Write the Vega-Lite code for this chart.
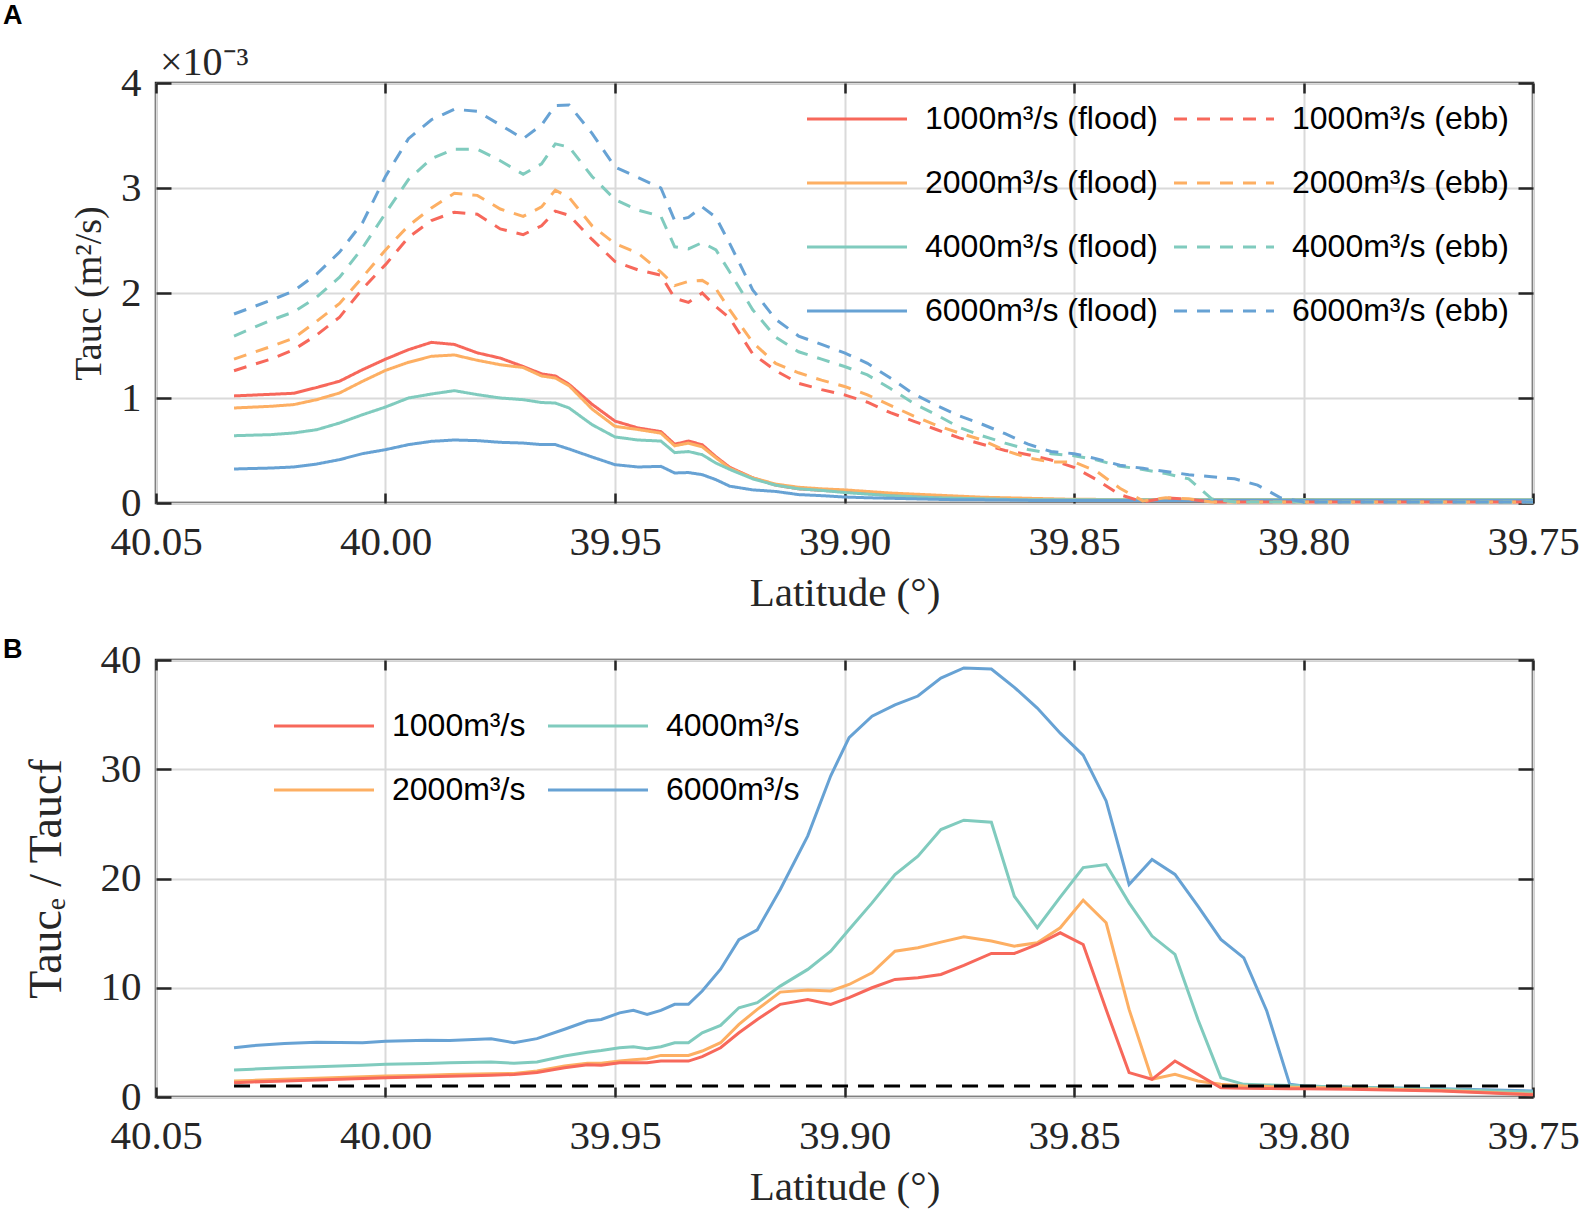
{
  "$schema": "https://vega.github.io/schema/vega-lite/v6.json",
  "background": "white",
  "padding": {"left": 1, "top": 0, "right": 0, "bottom": 5},
  "bounds": "flush",
  "spacing": 157,
  "resolve": {"scale": {"color": "independent", "strokeDash": "independent"}, "legend": {"color": "independent", "strokeDash": "independent"}},
  "config": {
    "view": {"stroke": "#262626", "strokeWidth": 2.5},
    "axis": {
      "domain": false,
      "labelFont": "Liberation Serif", "labelFontSize": 41, "labelColor": "#262626",
      "labelFlush": false, "labelOverlap": false,
      "titleFont": "Liberation Serif", "titleFontSize": 41, "titleFontWeight": "normal", "titleColor": "#262626",
      "tickColor": "#262626", "tickWidth": 2.5,
      "gridColor": "#dadada", "gridWidth": 2, "gridOpacity": 1
    },
    "axisX": {"tickSize": -10, "labelPadding": 29, "titlePadding": 11},
    "axisY": {"tickSize": -15, "labelPadding": 30, "titlePadding": 12},
    "legend": {
      "labelFont": "Liberation Sans", "labelFontSize": 32, "labelColor": "black", "labelLimit": 0,
      "symbolType": "M-1,0H9", "symbolSize": 400, "symbolStrokeWidth": 3, "labelOffset": 92,
      "rowPadding": 32, "padding": 0, "direction": "horizontal"
    }
  },
  "datasets": {
    "a": [
      {"s":"1000m³/s (flood)","lat":40.033,"v":1.02},{"s":"1000m³/s (flood)","lat":40.025,"v":1.035},{"s":"1000m³/s (flood)","lat":40.02,"v":1.045},{"s":"1000m³/s (flood)","lat":40.015,"v":1.10},{"s":"1000m³/s (flood)","lat":40.01,"v":1.16},{"s":"1000m³/s (flood)","lat":40.005,"v":1.27},{"s":"1000m³/s (flood)","lat":40.0,"v":1.37},{"s":"1000m³/s (flood)","lat":39.995,"v":1.46},{"s":"1000m³/s (flood)","lat":39.99,"v":1.53},{"s":"1000m³/s (flood)","lat":39.985,"v":1.51},
      {"s":"1000m³/s (flood)","lat":39.98,"v":1.43},{"s":"1000m³/s (flood)","lat":39.975,"v":1.38},{"s":"1000m³/s (flood)","lat":39.97,"v":1.30},{"s":"1000m³/s (flood)","lat":39.966,"v":1.23},{"s":"1000m³/s (flood)","lat":39.963,"v":1.21},{"s":"1000m³/s (flood)","lat":39.96,"v":1.13},{"s":"1000m³/s (flood)","lat":39.955,"v":0.94},{"s":"1000m³/s (flood)","lat":39.95,"v":0.78},{"s":"1000m³/s (flood)","lat":39.945,"v":0.715},{"s":"1000m³/s (flood)","lat":39.94,"v":0.68},
      {"s":"1000m³/s (flood)","lat":39.937,"v":0.56},{"s":"1000m³/s (flood)","lat":39.934,"v":0.59},{"s":"1000m³/s (flood)","lat":39.931,"v":0.555},{"s":"1000m³/s (flood)","lat":39.928,"v":0.44},{"s":"1000m³/s (flood)","lat":39.925,"v":0.34},{"s":"1000m³/s (flood)","lat":39.92,"v":0.24},{"s":"1000m³/s (flood)","lat":39.915,"v":0.17},{"s":"1000m³/s (flood)","lat":39.91,"v":0.135},{"s":"1000m³/s (flood)","lat":39.905,"v":0.12},{"s":"1000m³/s (flood)","lat":39.9,"v":0.11},
      {"s":"1000m³/s (flood)","lat":39.895,"v":0.09},{"s":"1000m³/s (flood)","lat":39.89,"v":0.075},{"s":"1000m³/s (flood)","lat":39.885,"v":0.065},{"s":"1000m³/s (flood)","lat":39.88,"v":0.055},{"s":"1000m³/s (flood)","lat":39.875,"v":0.05},{"s":"1000m³/s (flood)","lat":39.87,"v":0.045},{"s":"1000m³/s (flood)","lat":39.865,"v":0.04},{"s":"1000m³/s (flood)","lat":39.86,"v":0.035},{"s":"1000m³/s (flood)","lat":39.855,"v":0.03},{"s":"1000m³/s (flood)","lat":39.85,"v":0.03},
      {"s":"1000m³/s (flood)","lat":39.8,"v":0.03},{"s":"1000m³/s (flood)","lat":39.75,"v":0.025},

      {"s":"2000m³/s (flood)","lat":40.033,"v":0.905},{"s":"2000m³/s (flood)","lat":40.025,"v":0.921},{"s":"2000m³/s (flood)","lat":40.02,"v":0.937},{"s":"2000m³/s (flood)","lat":40.015,"v":0.984},{"s":"2000m³/s (flood)","lat":40.01,"v":1.048},{"s":"2000m³/s (flood)","lat":40.005,"v":1.159},{"s":"2000m³/s (flood)","lat":40.0,"v":1.263},{"s":"2000m³/s (flood)","lat":39.995,"v":1.34},{"s":"2000m³/s (flood)","lat":39.99,"v":1.397},{"s":"2000m³/s (flood)","lat":39.985,"v":1.41},
      {"s":"2000m³/s (flood)","lat":39.98,"v":1.359},{"s":"2000m³/s (flood)","lat":39.975,"v":1.317},{"s":"2000m³/s (flood)","lat":39.97,"v":1.29},{"s":"2000m³/s (flood)","lat":39.966,"v":1.21},{"s":"2000m³/s (flood)","lat":39.963,"v":1.19},{"s":"2000m³/s (flood)","lat":39.96,"v":1.117},{"s":"2000m³/s (flood)","lat":39.955,"v":0.895},{"s":"2000m³/s (flood)","lat":39.95,"v":0.73},{"s":"2000m³/s (flood)","lat":39.945,"v":0.70},{"s":"2000m³/s (flood)","lat":39.94,"v":0.665},
      {"s":"2000m³/s (flood)","lat":39.937,"v":0.545},{"s":"2000m³/s (flood)","lat":39.934,"v":0.57},{"s":"2000m³/s (flood)","lat":39.931,"v":0.535},{"s":"2000m³/s (flood)","lat":39.928,"v":0.43},{"s":"2000m³/s (flood)","lat":39.925,"v":0.33},{"s":"2000m³/s (flood)","lat":39.92,"v":0.24},{"s":"2000m³/s (flood)","lat":39.915,"v":0.18},{"s":"2000m³/s (flood)","lat":39.91,"v":0.15},{"s":"2000m³/s (flood)","lat":39.905,"v":0.135},{"s":"2000m³/s (flood)","lat":39.9,"v":0.125},
      {"s":"2000m³/s (flood)","lat":39.895,"v":0.11},{"s":"2000m³/s (flood)","lat":39.89,"v":0.095},{"s":"2000m³/s (flood)","lat":39.885,"v":0.085},{"s":"2000m³/s (flood)","lat":39.88,"v":0.075},{"s":"2000m³/s (flood)","lat":39.875,"v":0.065},{"s":"2000m³/s (flood)","lat":39.87,"v":0.055},{"s":"2000m³/s (flood)","lat":39.865,"v":0.05},{"s":"2000m³/s (flood)","lat":39.86,"v":0.045},{"s":"2000m³/s (flood)","lat":39.855,"v":0.04},{"s":"2000m³/s (flood)","lat":39.85,"v":0.035},
      {"s":"2000m³/s (flood)","lat":39.8,"v":0.03},{"s":"2000m³/s (flood)","lat":39.75,"v":0.03},

      {"s":"4000m³/s (flood)","lat":40.033,"v":0.641},{"s":"4000m³/s (flood)","lat":40.025,"v":0.651},{"s":"4000m³/s (flood)","lat":40.02,"v":0.667},{"s":"4000m³/s (flood)","lat":40.015,"v":0.698},{"s":"4000m³/s (flood)","lat":40.01,"v":0.762},{"s":"4000m³/s (flood)","lat":40.005,"v":0.841},{"s":"4000m³/s (flood)","lat":40.0,"v":0.914},{"s":"4000m³/s (flood)","lat":39.995,"v":1.0},{"s":"4000m³/s (flood)","lat":39.99,"v":1.038},{"s":"4000m³/s (flood)","lat":39.985,"v":1.07},
      {"s":"4000m³/s (flood)","lat":39.98,"v":1.032},{"s":"4000m³/s (flood)","lat":39.975,"v":1.0},{"s":"4000m³/s (flood)","lat":39.97,"v":0.984},{"s":"4000m³/s (flood)","lat":39.966,"v":0.957},{"s":"4000m³/s (flood)","lat":39.963,"v":0.952},{"s":"4000m³/s (flood)","lat":39.96,"v":0.905},{"s":"4000m³/s (flood)","lat":39.955,"v":0.746},{"s":"4000m³/s (flood)","lat":39.95,"v":0.629},{"s":"4000m³/s (flood)","lat":39.945,"v":0.60},{"s":"4000m³/s (flood)","lat":39.94,"v":0.59},
      {"s":"4000m³/s (flood)","lat":39.937,"v":0.48},{"s":"4000m³/s (flood)","lat":39.934,"v":0.49},{"s":"4000m³/s (flood)","lat":39.931,"v":0.46},{"s":"4000m³/s (flood)","lat":39.928,"v":0.38},{"s":"4000m³/s (flood)","lat":39.925,"v":0.32},{"s":"4000m³/s (flood)","lat":39.92,"v":0.23},{"s":"4000m³/s (flood)","lat":39.915,"v":0.17},{"s":"4000m³/s (flood)","lat":39.91,"v":0.135},{"s":"4000m³/s (flood)","lat":39.905,"v":0.12},{"s":"4000m³/s (flood)","lat":39.9,"v":0.10},
      {"s":"4000m³/s (flood)","lat":39.895,"v":0.085},{"s":"4000m³/s (flood)","lat":39.89,"v":0.07},{"s":"4000m³/s (flood)","lat":39.885,"v":0.06},{"s":"4000m³/s (flood)","lat":39.88,"v":0.05},{"s":"4000m³/s (flood)","lat":39.875,"v":0.045},{"s":"4000m³/s (flood)","lat":39.87,"v":0.04},{"s":"4000m³/s (flood)","lat":39.865,"v":0.035},{"s":"4000m³/s (flood)","lat":39.86,"v":0.03},{"s":"4000m³/s (flood)","lat":39.855,"v":0.03},{"s":"4000m³/s (flood)","lat":39.85,"v":0.03},
      {"s":"4000m³/s (flood)","lat":39.8,"v":0.03},{"s":"4000m³/s (flood)","lat":39.75,"v":0.03},

      {"s":"6000m³/s (flood)","lat":40.033,"v":0.324},{"s":"6000m³/s (flood)","lat":40.025,"v":0.333},{"s":"6000m³/s (flood)","lat":40.02,"v":0.343},{"s":"6000m³/s (flood)","lat":40.015,"v":0.371},{"s":"6000m³/s (flood)","lat":40.01,"v":0.413},{"s":"6000m³/s (flood)","lat":40.005,"v":0.47},{"s":"6000m³/s (flood)","lat":40.0,"v":0.508},{"s":"6000m³/s (flood)","lat":39.995,"v":0.556},{"s":"6000m³/s (flood)","lat":39.99,"v":0.587},{"s":"6000m³/s (flood)","lat":39.985,"v":0.60},
      {"s":"6000m³/s (flood)","lat":39.98,"v":0.594},{"s":"6000m³/s (flood)","lat":39.975,"v":0.578},{"s":"6000m³/s (flood)","lat":39.97,"v":0.571},{"s":"6000m³/s (flood)","lat":39.966,"v":0.556},{"s":"6000m³/s (flood)","lat":39.963,"v":0.556},{"s":"6000m³/s (flood)","lat":39.96,"v":0.514},{"s":"6000m³/s (flood)","lat":39.955,"v":0.438},{"s":"6000m³/s (flood)","lat":39.95,"v":0.365},{"s":"6000m³/s (flood)","lat":39.945,"v":0.343},{"s":"6000m³/s (flood)","lat":39.94,"v":0.349},
      {"s":"6000m³/s (flood)","lat":39.937,"v":0.286},{"s":"6000m³/s (flood)","lat":39.934,"v":0.29},{"s":"6000m³/s (flood)","lat":39.931,"v":0.27},{"s":"6000m³/s (flood)","lat":39.928,"v":0.222},{"s":"6000m³/s (flood)","lat":39.925,"v":0.16},{"s":"6000m³/s (flood)","lat":39.92,"v":0.125},{"s":"6000m³/s (flood)","lat":39.915,"v":0.11},{"s":"6000m³/s (flood)","lat":39.91,"v":0.08},{"s":"6000m³/s (flood)","lat":39.905,"v":0.07},{"s":"6000m³/s (flood)","lat":39.9,"v":0.057},
      {"s":"6000m³/s (flood)","lat":39.895,"v":0.05},{"s":"6000m³/s (flood)","lat":39.89,"v":0.045},{"s":"6000m³/s (flood)","lat":39.885,"v":0.04},{"s":"6000m³/s (flood)","lat":39.88,"v":0.035},{"s":"6000m³/s (flood)","lat":39.875,"v":0.03},{"s":"6000m³/s (flood)","lat":39.87,"v":0.03},{"s":"6000m³/s (flood)","lat":39.865,"v":0.028},{"s":"6000m³/s (flood)","lat":39.86,"v":0.025},{"s":"6000m³/s (flood)","lat":39.855,"v":0.025},{"s":"6000m³/s (flood)","lat":39.85,"v":0.025},
      {"s":"6000m³/s (flood)","lat":39.8,"v":0.025},{"s":"6000m³/s (flood)","lat":39.75,"v":0.025},

      {"s":"1000m³/s (ebb)","lat":40.033,"v":1.26},{"s":"1000m³/s (ebb)","lat":40.025,"v":1.37},{"s":"1000m³/s (ebb)","lat":40.02,"v":1.46},{"s":"1000m³/s (ebb)","lat":40.015,"v":1.60},{"s":"1000m³/s (ebb)","lat":40.01,"v":1.77},{"s":"1000m³/s (ebb)","lat":40.005,"v":2.04},{"s":"1000m³/s (ebb)","lat":40.0,"v":2.27},{"s":"1000m³/s (ebb)","lat":39.995,"v":2.53},{"s":"1000m³/s (ebb)","lat":39.99,"v":2.69},{"s":"1000m³/s (ebb)","lat":39.985,"v":2.77},
      {"s":"1000m³/s (ebb)","lat":39.98,"v":2.75},{"s":"1000m³/s (ebb)","lat":39.975,"v":2.61},{"s":"1000m³/s (ebb)","lat":39.97,"v":2.556},{"s":"1000m³/s (ebb)","lat":39.966,"v":2.64},{"s":"1000m³/s (ebb)","lat":39.963,"v":2.78},{"s":"1000m³/s (ebb)","lat":39.96,"v":2.74},{"s":"1000m³/s (ebb)","lat":39.955,"v":2.51},{"s":"1000m³/s (ebb)","lat":39.95,"v":2.3},{"s":"1000m³/s (ebb)","lat":39.945,"v":2.22},{"s":"1000m³/s (ebb)","lat":39.94,"v":2.17},
      {"s":"1000m³/s (ebb)","lat":39.937,"v":1.95},{"s":"1000m³/s (ebb)","lat":39.934,"v":1.91},{"s":"1000m³/s (ebb)","lat":39.931,"v":2.0},{"s":"1000m³/s (ebb)","lat":39.928,"v":1.87},{"s":"1000m³/s (ebb)","lat":39.925,"v":1.76},{"s":"1000m³/s (ebb)","lat":39.92,"v":1.42},{"s":"1000m³/s (ebb)","lat":39.915,"v":1.26},{"s":"1000m³/s (ebb)","lat":39.91,"v":1.14},{"s":"1000m³/s (ebb)","lat":39.905,"v":1.08},{"s":"1000m³/s (ebb)","lat":39.9,"v":1.03},
      {"s":"1000m³/s (ebb)","lat":39.895,"v":0.96},{"s":"1000m³/s (ebb)","lat":39.89,"v":0.86},{"s":"1000m³/s (ebb)","lat":39.885,"v":0.78},{"s":"1000m³/s (ebb)","lat":39.88,"v":0.70},{"s":"1000m³/s (ebb)","lat":39.875,"v":0.62},{"s":"1000m³/s (ebb)","lat":39.87,"v":0.56},{"s":"1000m³/s (ebb)","lat":39.865,"v":0.50},{"s":"1000m³/s (ebb)","lat":39.86,"v":0.46},{"s":"1000m³/s (ebb)","lat":39.855,"v":0.41},{"s":"1000m³/s (ebb)","lat":39.85,"v":0.34},
      {"s":"1000m³/s (ebb)","lat":39.845,"v":0.22},{"s":"1000m³/s (ebb)","lat":39.84,"v":0.08},{"s":"1000m³/s (ebb)","lat":39.835,"v":0.01},{"s":"1000m³/s (ebb)","lat":39.83,"v":0.05},{"s":"1000m³/s (ebb)","lat":39.825,"v":0.035},{"s":"1000m³/s (ebb)","lat":39.82,"v":0.01},{"s":"1000m³/s (ebb)","lat":39.8,"v":0.01},{"s":"1000m³/s (ebb)","lat":39.75,"v":0.01},

      {"s":"2000m³/s (ebb)","lat":40.033,"v":1.37},{"s":"2000m³/s (ebb)","lat":40.025,"v":1.49},{"s":"2000m³/s (ebb)","lat":40.02,"v":1.57},{"s":"2000m³/s (ebb)","lat":40.015,"v":1.73},{"s":"2000m³/s (ebb)","lat":40.01,"v":1.90},{"s":"2000m³/s (ebb)","lat":40.005,"v":2.15},{"s":"2000m³/s (ebb)","lat":40.0,"v":2.41},{"s":"2000m³/s (ebb)","lat":39.995,"v":2.64},{"s":"2000m³/s (ebb)","lat":39.99,"v":2.81},{"s":"2000m³/s (ebb)","lat":39.985,"v":2.95},
      {"s":"2000m³/s (ebb)","lat":39.98,"v":2.93},{"s":"2000m³/s (ebb)","lat":39.975,"v":2.80},{"s":"2000m³/s (ebb)","lat":39.97,"v":2.73},{"s":"2000m³/s (ebb)","lat":39.966,"v":2.82},{"s":"2000m³/s (ebb)","lat":39.963,"v":2.98},{"s":"2000m³/s (ebb)","lat":39.96,"v":2.91},{"s":"2000m³/s (ebb)","lat":39.955,"v":2.64},{"s":"2000m³/s (ebb)","lat":39.95,"v":2.47},{"s":"2000m³/s (ebb)","lat":39.945,"v":2.38},{"s":"2000m³/s (ebb)","lat":39.94,"v":2.2},
      {"s":"2000m³/s (ebb)","lat":39.937,"v":2.07},{"s":"2000m³/s (ebb)","lat":39.934,"v":2.11},{"s":"2000m³/s (ebb)","lat":39.931,"v":2.12},{"s":"2000m³/s (ebb)","lat":39.928,"v":2.04},{"s":"2000m³/s (ebb)","lat":39.925,"v":1.84},{"s":"2000m³/s (ebb)","lat":39.92,"v":1.53},{"s":"2000m³/s (ebb)","lat":39.915,"v":1.33},{"s":"2000m³/s (ebb)","lat":39.91,"v":1.24},{"s":"2000m³/s (ebb)","lat":39.905,"v":1.17},{"s":"2000m³/s (ebb)","lat":39.9,"v":1.11},
      {"s":"2000m³/s (ebb)","lat":39.895,"v":1.03},{"s":"2000m³/s (ebb)","lat":39.89,"v":0.93},{"s":"2000m³/s (ebb)","lat":39.885,"v":0.83},{"s":"2000m³/s (ebb)","lat":39.88,"v":0.74},{"s":"2000m³/s (ebb)","lat":39.875,"v":0.667},{"s":"2000m³/s (ebb)","lat":39.87,"v":0.60},{"s":"2000m³/s (ebb)","lat":39.865,"v":0.50},{"s":"2000m³/s (ebb)","lat":39.86,"v":0.43},{"s":"2000m³/s (ebb)","lat":39.855,"v":0.39},{"s":"2000m³/s (ebb)","lat":39.85,"v":0.39},
      {"s":"2000m³/s (ebb)","lat":39.845,"v":0.30},{"s":"2000m³/s (ebb)","lat":39.84,"v":0.14},{"s":"2000m³/s (ebb)","lat":39.835,"v":0.02},{"s":"2000m³/s (ebb)","lat":39.83,"v":0.05},{"s":"2000m³/s (ebb)","lat":39.825,"v":0.04},{"s":"2000m³/s (ebb)","lat":39.82,"v":0.01},{"s":"2000m³/s (ebb)","lat":39.8,"v":0.01},{"s":"2000m³/s (ebb)","lat":39.75,"v":0.01},

      {"s":"4000m³/s (ebb)","lat":40.033,"v":1.59},{"s":"4000m³/s (ebb)","lat":40.025,"v":1.74},{"s":"4000m³/s (ebb)","lat":40.02,"v":1.82},{"s":"4000m³/s (ebb)","lat":40.015,"v":1.96},{"s":"4000m³/s (ebb)","lat":40.01,"v":2.15},{"s":"4000m³/s (ebb)","lat":40.005,"v":2.43},{"s":"4000m³/s (ebb)","lat":40.0,"v":2.76},{"s":"4000m³/s (ebb)","lat":39.995,"v":3.08},{"s":"4000m³/s (ebb)","lat":39.99,"v":3.28},{"s":"4000m³/s (ebb)","lat":39.985,"v":3.37},
      {"s":"4000m³/s (ebb)","lat":39.98,"v":3.37},{"s":"4000m³/s (ebb)","lat":39.975,"v":3.26},{"s":"4000m³/s (ebb)","lat":39.97,"v":3.13},{"s":"4000m³/s (ebb)","lat":39.966,"v":3.23},{"s":"4000m³/s (ebb)","lat":39.963,"v":3.42},{"s":"4000m³/s (ebb)","lat":39.96,"v":3.39},{"s":"4000m³/s (ebb)","lat":39.955,"v":3.11},{"s":"4000m³/s (ebb)","lat":39.95,"v":2.89},{"s":"4000m³/s (ebb)","lat":39.945,"v":2.79},{"s":"4000m³/s (ebb)","lat":39.94,"v":2.73},
      {"s":"4000m³/s (ebb)","lat":39.937,"v":2.44},{"s":"4000m³/s (ebb)","lat":39.934,"v":2.42},{"s":"4000m³/s (ebb)","lat":39.931,"v":2.48},{"s":"4000m³/s (ebb)","lat":39.928,"v":2.41},{"s":"4000m³/s (ebb)","lat":39.925,"v":2.2},{"s":"4000m³/s (ebb)","lat":39.92,"v":1.84},{"s":"4000m³/s (ebb)","lat":39.915,"v":1.58},{"s":"4000m³/s (ebb)","lat":39.91,"v":1.44},{"s":"4000m³/s (ebb)","lat":39.905,"v":1.37},{"s":"4000m³/s (ebb)","lat":39.9,"v":1.30},
      {"s":"4000m³/s (ebb)","lat":39.895,"v":1.22},{"s":"4000m³/s (ebb)","lat":39.89,"v":1.09},{"s":"4000m³/s (ebb)","lat":39.885,"v":0.95},{"s":"4000m³/s (ebb)","lat":39.88,"v":0.84},{"s":"4000m³/s (ebb)","lat":39.875,"v":0.72},{"s":"4000m³/s (ebb)","lat":39.87,"v":0.64},{"s":"4000m³/s (ebb)","lat":39.865,"v":0.57},{"s":"4000m³/s (ebb)","lat":39.86,"v":0.51},{"s":"4000m³/s (ebb)","lat":39.855,"v":0.47},{"s":"4000m³/s (ebb)","lat":39.85,"v":0.45},
      {"s":"4000m³/s (ebb)","lat":39.845,"v":0.41},{"s":"4000m³/s (ebb)","lat":39.84,"v":0.35},{"s":"4000m³/s (ebb)","lat":39.835,"v":0.32},{"s":"4000m³/s (ebb)","lat":39.83,"v":0.28},{"s":"4000m³/s (ebb)","lat":39.825,"v":0.23},{"s":"4000m³/s (ebb)","lat":39.82,"v":0.04},{"s":"4000m³/s (ebb)","lat":39.815,"v":0.01},{"s":"4000m³/s (ebb)","lat":39.8,"v":0.01},{"s":"4000m³/s (ebb)","lat":39.75,"v":0.01},

      {"s":"6000m³/s (ebb)","lat":40.033,"v":1.80},{"s":"6000m³/s (ebb)","lat":40.025,"v":1.93},{"s":"6000m³/s (ebb)","lat":40.02,"v":2.02},{"s":"6000m³/s (ebb)","lat":40.015,"v":2.18},{"s":"6000m³/s (ebb)","lat":40.01,"v":2.39},{"s":"6000m³/s (ebb)","lat":40.005,"v":2.67},{"s":"6000m³/s (ebb)","lat":40.0,"v":3.11},{"s":"6000m³/s (ebb)","lat":39.995,"v":3.47},{"s":"6000m³/s (ebb)","lat":39.99,"v":3.65},{"s":"6000m³/s (ebb)","lat":39.985,"v":3.75},
      {"s":"6000m³/s (ebb)","lat":39.98,"v":3.73},{"s":"6000m³/s (ebb)","lat":39.975,"v":3.60},{"s":"6000m³/s (ebb)","lat":39.97,"v":3.47},{"s":"6000m³/s (ebb)","lat":39.966,"v":3.6},{"s":"6000m³/s (ebb)","lat":39.963,"v":3.785},{"s":"6000m³/s (ebb)","lat":39.96,"v":3.79},{"s":"6000m³/s (ebb)","lat":39.955,"v":3.52},{"s":"6000m³/s (ebb)","lat":39.95,"v":3.2},{"s":"6000m³/s (ebb)","lat":39.945,"v":3.1},{"s":"6000m³/s (ebb)","lat":39.94,"v":3.0},
      {"s":"6000m³/s (ebb)","lat":39.937,"v":2.69},{"s":"6000m³/s (ebb)","lat":39.934,"v":2.72},{"s":"6000m³/s (ebb)","lat":39.931,"v":2.82},{"s":"6000m³/s (ebb)","lat":39.928,"v":2.72},{"s":"6000m³/s (ebb)","lat":39.925,"v":2.47},{"s":"6000m³/s (ebb)","lat":39.92,"v":2.03},{"s":"6000m³/s (ebb)","lat":39.915,"v":1.75},{"s":"6000m³/s (ebb)","lat":39.91,"v":1.59},{"s":"6000m³/s (ebb)","lat":39.905,"v":1.51},{"s":"6000m³/s (ebb)","lat":39.9,"v":1.43},
      {"s":"6000m³/s (ebb)","lat":39.895,"v":1.33},{"s":"6000m³/s (ebb)","lat":39.89,"v":1.19},{"s":"6000m³/s (ebb)","lat":39.885,"v":1.04},{"s":"6000m³/s (ebb)","lat":39.88,"v":0.93},{"s":"6000m³/s (ebb)","lat":39.875,"v":0.83},{"s":"6000m³/s (ebb)","lat":39.87,"v":0.75},{"s":"6000m³/s (ebb)","lat":39.865,"v":0.66},{"s":"6000m³/s (ebb)","lat":39.86,"v":0.56},{"s":"6000m³/s (ebb)","lat":39.855,"v":0.49},{"s":"6000m³/s (ebb)","lat":39.85,"v":0.47},
      {"s":"6000m³/s (ebb)","lat":39.845,"v":0.42},{"s":"6000m³/s (ebb)","lat":39.84,"v":0.36},{"s":"6000m³/s (ebb)","lat":39.835,"v":0.33},{"s":"6000m³/s (ebb)","lat":39.83,"v":0.30},{"s":"6000m³/s (ebb)","lat":39.825,"v":0.27},{"s":"6000m³/s (ebb)","lat":39.82,"v":0.25},{"s":"6000m³/s (ebb)","lat":39.815,"v":0.23},{"s":"6000m³/s (ebb)","lat":39.81,"v":0.17},{"s":"6000m³/s (ebb)","lat":39.805,"v":0.05},{"s":"6000m³/s (ebb)","lat":39.8,"v":0.01},{"s":"6000m³/s (ebb)","lat":39.75,"v":0.01}
    ],
    "b": [
      {"s":"6000m³/s","lat":40.033,"v":4.5},{"s":"6000m³/s","lat":40.029,"v":4.7},{"s":"6000m³/s","lat":40.022,"v":4.9},{"s":"6000m³/s","lat":40.015,"v":5.0},{"s":"6000m³/s","lat":40.005,"v":4.97},{"s":"6000m³/s","lat":40.0,"v":5.1},{"s":"6000m³/s","lat":39.991,"v":5.2},{"s":"6000m³/s","lat":39.986,"v":5.18},{"s":"6000m³/s","lat":39.977,"v":5.33},{"s":"6000m³/s","lat":39.972,"v":4.97},
      {"s":"6000m³/s","lat":39.967,"v":5.34},{"s":"6000m³/s","lat":39.961,"v":6.2},{"s":"6000m³/s","lat":39.956,"v":6.95},{"s":"6000m³/s","lat":39.953,"v":7.1},{"s":"6000m³/s","lat":39.949,"v":7.7},{"s":"6000m³/s","lat":39.946,"v":7.93},{"s":"6000m³/s","lat":39.943,"v":7.56},{"s":"6000m³/s","lat":39.94,"v":7.93},{"s":"6000m³/s","lat":39.937,"v":8.48},{"s":"6000m³/s","lat":39.934,"v":8.48},
      {"s":"6000m³/s","lat":39.931,"v":9.7},{"s":"6000m³/s","lat":39.927,"v":11.7},{"s":"6000m³/s","lat":39.923,"v":14.4},{"s":"6000m³/s","lat":39.919,"v":15.3},{"s":"6000m³/s","lat":39.914,"v":19.0},{"s":"6000m³/s","lat":39.908,"v":23.9},{"s":"6000m³/s","lat":39.903,"v":29.4},{"s":"6000m³/s","lat":39.899,"v":32.9},{"s":"6000m³/s","lat":39.894,"v":34.85},{"s":"6000m³/s","lat":39.889,"v":35.9},
      {"s":"6000m³/s","lat":39.884,"v":36.7},{"s":"6000m³/s","lat":39.879,"v":38.35},{"s":"6000m³/s","lat":39.874,"v":39.27},{"s":"6000m³/s","lat":39.868,"v":39.18},{"s":"6000m³/s","lat":39.863,"v":37.5},{"s":"6000m³/s","lat":39.858,"v":35.6},{"s":"6000m³/s","lat":39.853,"v":33.3},{"s":"6000m³/s","lat":39.848,"v":31.3},{"s":"6000m³/s","lat":39.843,"v":27.1},{"s":"6000m³/s","lat":39.838,"v":19.45},
      {"s":"6000m³/s","lat":39.833,"v":21.74},{"s":"6000m³/s","lat":39.828,"v":20.37},{"s":"6000m³/s","lat":39.823,"v":17.47},{"s":"6000m³/s","lat":39.818,"v":14.42},{"s":"6000m³/s","lat":39.813,"v":12.74},{"s":"6000m³/s","lat":39.808,"v":7.87},{"s":"6000m³/s","lat":39.803,"v":1.16},{"s":"6000m³/s","lat":39.8,"v":1.0},{"s":"6000m³/s","lat":39.79,"v":0.9},{"s":"6000m³/s","lat":39.77,"v":0.75},{"s":"6000m³/s","lat":39.75,"v":0.55},

      {"s":"4000m³/s","lat":40.033,"v":2.47},{"s":"4000m³/s","lat":40.029,"v":2.55},{"s":"4000m³/s","lat":40.022,"v":2.68},{"s":"4000m³/s","lat":40.015,"v":2.78},{"s":"4000m³/s","lat":40.005,"v":2.9},{"s":"4000m³/s","lat":40.0,"v":2.99},{"s":"4000m³/s","lat":39.991,"v":3.06},{"s":"4000m³/s","lat":39.986,"v":3.14},{"s":"4000m³/s","lat":39.977,"v":3.2},{"s":"4000m³/s","lat":39.972,"v":3.08},
      {"s":"4000m³/s","lat":39.967,"v":3.2},{"s":"4000m³/s","lat":39.961,"v":3.75},{"s":"4000m³/s","lat":39.956,"v":4.1},{"s":"4000m³/s","lat":39.953,"v":4.25},{"s":"4000m³/s","lat":39.949,"v":4.51},{"s":"4000m³/s","lat":39.946,"v":4.6},{"s":"4000m³/s","lat":39.943,"v":4.42},{"s":"4000m³/s","lat":39.94,"v":4.6},{"s":"4000m³/s","lat":39.937,"v":4.97},{"s":"4000m³/s","lat":39.934,"v":4.97},
      {"s":"4000m³/s","lat":39.931,"v":5.88},{"s":"4000m³/s","lat":39.927,"v":6.55},{"s":"4000m³/s","lat":39.923,"v":8.17},{"s":"4000m³/s","lat":39.919,"v":8.63},{"s":"4000m³/s","lat":39.914,"v":10.15},{"s":"4000m³/s","lat":39.908,"v":11.68},{"s":"4000m³/s","lat":39.903,"v":13.35},{"s":"4000m³/s","lat":39.899,"v":15.34},{"s":"4000m³/s","lat":39.894,"v":17.77},{"s":"4000m³/s","lat":39.889,"v":20.37},
      {"s":"4000m³/s","lat":39.884,"v":22.04},{"s":"4000m³/s","lat":39.879,"v":24.48},{"s":"4000m³/s","lat":39.874,"v":25.34},{"s":"4000m³/s","lat":39.868,"v":25.15},{"s":"4000m³/s","lat":39.863,"v":18.38},{"s":"4000m³/s","lat":39.858,"v":15.5},{"s":"4000m³/s","lat":39.853,"v":18.3},{"s":"4000m³/s","lat":39.848,"v":21.0},{"s":"4000m³/s","lat":39.843,"v":21.28},{"s":"4000m³/s","lat":39.838,"v":17.77},
      {"s":"4000m³/s","lat":39.833,"v":14.73},{"s":"4000m³/s","lat":39.828,"v":13.05},{"s":"4000m³/s","lat":39.823,"v":7.1},{"s":"4000m³/s","lat":39.818,"v":1.77},{"s":"4000m³/s","lat":39.813,"v":1.16},{"s":"4000m³/s","lat":39.808,"v":1.1},{"s":"4000m³/s","lat":39.803,"v":1.05},{"s":"4000m³/s","lat":39.8,"v":1.0},{"s":"4000m³/s","lat":39.79,"v":0.9},{"s":"4000m³/s","lat":39.77,"v":0.7},{"s":"4000m³/s","lat":39.75,"v":0.45},

      {"s":"2000m³/s","lat":40.033,"v":1.46},{"s":"2000m³/s","lat":40.029,"v":1.52},{"s":"2000m³/s","lat":40.022,"v":1.62},{"s":"2000m³/s","lat":40.015,"v":1.72},{"s":"2000m³/s","lat":40.005,"v":1.85},{"s":"2000m³/s","lat":40.0,"v":1.92},{"s":"2000m³/s","lat":39.991,"v":2.0},{"s":"2000m³/s","lat":39.986,"v":2.07},{"s":"2000m³/s","lat":39.977,"v":2.12},{"s":"2000m³/s","lat":39.972,"v":2.16},
      {"s":"2000m³/s","lat":39.967,"v":2.38},{"s":"2000m³/s","lat":39.961,"v":2.84},{"s":"2000m³/s","lat":39.956,"v":3.1},{"s":"2000m³/s","lat":39.953,"v":3.1},{"s":"2000m³/s","lat":39.949,"v":3.29},{"s":"2000m³/s","lat":39.946,"v":3.4},{"s":"2000m³/s","lat":39.943,"v":3.51},{"s":"2000m³/s","lat":39.94,"v":3.81},{"s":"2000m³/s","lat":39.937,"v":3.81},{"s":"2000m³/s","lat":39.934,"v":3.81},
      {"s":"2000m³/s","lat":39.931,"v":4.21},{"s":"2000m³/s","lat":39.927,"v":4.97},{"s":"2000m³/s","lat":39.923,"v":6.65},{"s":"2000m³/s","lat":39.919,"v":8.02},{"s":"2000m³/s","lat":39.914,"v":9.6},{"s":"2000m³/s","lat":39.908,"v":9.79},{"s":"2000m³/s","lat":39.903,"v":9.7},{"s":"2000m³/s","lat":39.899,"v":10.3},{"s":"2000m³/s","lat":39.894,"v":11.37},{"s":"2000m³/s","lat":39.889,"v":13.35},
      {"s":"2000m³/s","lat":39.884,"v":13.66},{"s":"2000m³/s","lat":39.879,"v":14.18},{"s":"2000m³/s","lat":39.874,"v":14.66},{"s":"2000m³/s","lat":39.868,"v":14.27},{"s":"2000m³/s","lat":39.863,"v":13.81},{"s":"2000m³/s","lat":39.858,"v":14.12},{"s":"2000m³/s","lat":39.853,"v":15.49},{"s":"2000m³/s","lat":39.848,"v":18.02},{"s":"2000m³/s","lat":39.843,"v":15.95},{"s":"2000m³/s","lat":39.838,"v":8.02},
      {"s":"2000m³/s","lat":39.833,"v":1.62},{"s":"2000m³/s","lat":39.828,"v":2.07},{"s":"2000m³/s","lat":39.823,"v":1.46},{"s":"2000m³/s","lat":39.818,"v":1.16},{"s":"2000m³/s","lat":39.813,"v":1.0},{"s":"2000m³/s","lat":39.808,"v":0.95},{"s":"2000m³/s","lat":39.803,"v":0.9},{"s":"2000m³/s","lat":39.8,"v":0.88},{"s":"2000m³/s","lat":39.79,"v":0.8},{"s":"2000m³/s","lat":39.77,"v":0.6},{"s":"2000m³/s","lat":39.75,"v":0.25},

      {"s":"1000m³/s","lat":40.033,"v":1.31},{"s":"1000m³/s","lat":40.029,"v":1.38},{"s":"1000m³/s","lat":40.022,"v":1.47},{"s":"1000m³/s","lat":40.015,"v":1.56},{"s":"1000m³/s","lat":40.005,"v":1.7},{"s":"1000m³/s","lat":40.0,"v":1.77},{"s":"1000m³/s","lat":39.991,"v":1.85},{"s":"1000m³/s","lat":39.986,"v":1.9},{"s":"1000m³/s","lat":39.977,"v":1.98},{"s":"1000m³/s","lat":39.972,"v":2.07},
      {"s":"1000m³/s","lat":39.967,"v":2.25},{"s":"1000m³/s","lat":39.961,"v":2.68},{"s":"1000m³/s","lat":39.956,"v":2.95},{"s":"1000m³/s","lat":39.953,"v":2.9},{"s":"1000m³/s","lat":39.949,"v":3.14},{"s":"1000m³/s","lat":39.946,"v":3.14},{"s":"1000m³/s","lat":39.943,"v":3.14},{"s":"1000m³/s","lat":39.94,"v":3.29},{"s":"1000m³/s","lat":39.937,"v":3.29},{"s":"1000m³/s","lat":39.934,"v":3.29},
      {"s":"1000m³/s","lat":39.931,"v":3.69},{"s":"1000m³/s","lat":39.927,"v":4.51},{"s":"1000m³/s","lat":39.923,"v":5.88},{"s":"1000m³/s","lat":39.919,"v":7.1},{"s":"1000m³/s","lat":39.914,"v":8.48},{"s":"1000m³/s","lat":39.908,"v":8.93},{"s":"1000m³/s","lat":39.903,"v":8.48},{"s":"1000m³/s","lat":39.899,"v":9.09},{"s":"1000m³/s","lat":39.894,"v":10.0},{"s":"1000m³/s","lat":39.889,"v":10.76},
      {"s":"1000m³/s","lat":39.884,"v":10.91},{"s":"1000m³/s","lat":39.879,"v":11.22},{"s":"1000m³/s","lat":39.874,"v":12.04},{"s":"1000m³/s","lat":39.868,"v":13.14},{"s":"1000m³/s","lat":39.863,"v":13.14},{"s":"1000m³/s","lat":39.858,"v":13.96},{"s":"1000m³/s","lat":39.853,"v":15.03},{"s":"1000m³/s","lat":39.848,"v":13.96},{"s":"1000m³/s","lat":39.843,"v":8.0},{"s":"1000m³/s","lat":39.838,"v":2.23},
      {"s":"1000m³/s","lat":39.833,"v":1.62},{"s":"1000m³/s","lat":39.828,"v":3.29},{"s":"1000m³/s","lat":39.823,"v":2.07},{"s":"1000m³/s","lat":39.818,"v":0.85},{"s":"1000m³/s","lat":39.813,"v":0.8},{"s":"1000m³/s","lat":39.808,"v":0.78},{"s":"1000m³/s","lat":39.803,"v":0.76},{"s":"1000m³/s","lat":39.8,"v":0.75},{"s":"1000m³/s","lat":39.79,"v":0.7},{"s":"1000m³/s","lat":39.77,"v":0.55},{"s":"1000m³/s","lat":39.75,"v":0.2}
    ]
  },
  "vconcat": [
    {
      "width": 1377,
      "height": 420,
      "title": {"text": "A", "anchor": "start", "frame": "group", "font": "Liberation Sans", "fontSize": 27, "fontWeight": "bold", "color": "black", "baseline": "bottom", "dx": -153, "dy": 66, "offset": 52},
      "resolve": {"axis": {"x": "independent", "y": "independent"}},
      "layer": [
        {
          "data": {"name": "a"},
          "mark": {"type": "line", "strokeWidth": 3, "strokeCap": "butt"},
          "encoding": {
            "x": {"field": "lat", "type": "quantitative",
              "scale": {"domain": [39.75, 40.05], "reverse": true, "nice": false, "zero": false},
              "axis": {"title": "Latitude (°)", "values": [40.05, 40.0, 39.95, 39.9, 39.85, 39.8, 39.75], "format": ".2f"}},
            "y": {"field": "v", "type": "quantitative",
              "scale": {"domain": [0, 4], "nice": false},
              "axis": {"title": "Tauc (m²/s)", "titleFontSize": 38, "values": [0, 1, 2, 3, 4], "format": "d"}},
            "color": {"field": "s", "type": "nominal",
              "scale": {
                "domain": ["1000m³/s (flood)", "1000m³/s (ebb)", "2000m³/s (flood)", "2000m³/s (ebb)", "4000m³/s (flood)", "4000m³/s (ebb)", "6000m³/s (flood)", "6000m³/s (ebb)"],
                "range": ["#F7685B", "#F7685B", "#FDAF63", "#FDAF63", "#80CBBE", "#80CBBE", "#67A2D4", "#67A2D4"]},
              "legend": {"title": null, "orient": "none", "legendX": 645, "legendY": 20, "columns": 2, "columnPadding": 10}},
            "strokeDash": {"field": "s", "type": "nominal",
              "scale": {
                "domain": ["1000m³/s (flood)", "1000m³/s (ebb)", "2000m³/s (flood)", "2000m³/s (ebb)", "4000m³/s (flood)", "4000m³/s (ebb)", "6000m³/s (flood)", "6000m³/s (ebb)"],
                "range": [[1, 0], [13, 10], [1, 0], [13, 10], [1, 0], [13, 10], [1, 0], [13, 10]]},
              "legend": {"title": null, "orient": "none", "legendX": 645, "legendY": 20, "columns": 2, "columnPadding": 10}}
          }
        },
        {
          "data": {"values": [{}]},
          "mark": {"type": "text", "text": "×10⁻³", "align": "left", "baseline": "alphabetic", "dx": 4, "dy": -8, "font": "Liberation Serif", "fontSize": 40, "color": "#262626"},
          "encoding": {
            "x": {"datum": 40.05, "type": "quantitative",
              "scale": {"domain": [39.75, 40.05], "reverse": true, "nice": false, "zero": false},
              "axis": {"orient": "top", "values": [40.05, 40.0, 39.95, 39.9, 39.85, 39.8, 39.75], "labels": false, "grid": false, "title": null}},
            "y": {"datum": 4, "type": "quantitative",
              "scale": {"domain": [0, 4], "nice": false},
              "axis": {"orient": "right", "values": [0, 1, 2, 3, 4], "labels": false, "grid": false, "title": null}}
          }
        }
      ]
    },
    {
      "width": 1377,
      "height": 437,
      "title": {"text": "B", "anchor": "start", "frame": "group", "font": "Liberation Sans", "fontSize": 27, "fontWeight": "bold", "color": "black", "baseline": "bottom", "dx": -153, "dy": 66, "offset": 14},
      "resolve": {"axis": {"x": "independent", "y": "independent"}},
      "layer": [
        {
          "data": {"name": "b"},
          "mark": {"type": "line", "strokeWidth": 3},
          "encoding": {
            "x": {"field": "lat", "type": "quantitative",
              "scale": {"domain": [39.75, 40.05], "reverse": true, "nice": false, "zero": false},
              "axis": {"title": "Latitude (°)", "values": [40.05, 40.0, 39.95, 39.9, 39.85, 39.8, 39.75], "format": ".2f"}},
            "y": {"field": "v", "type": "quantitative",
              "scale": {"domain": [0, 40], "nice": false},
              "axis": {"title": "Taucₑ / Taucf", "titleFontSize": 46, "titlePadding": 30, "values": [0, 10, 20, 30, 40], "format": "d"}},
            "color": {"field": "s", "type": "nominal",
              "scale": {
                "domain": ["1000m³/s", "4000m³/s", "2000m³/s", "6000m³/s"],
                "range": ["#F7685B", "#80CBBE", "#FDAF63", "#67A2D4"]},
              "legend": {"title": null, "orient": "none", "legendX": 112, "legendY": 50, "columns": 2, "columnPadding": 16}}
          }
        },
        {
          "data": {"values": [{}]},
          "mark": {"type": "rule", "color": "black", "strokeWidth": 3, "strokeDash": [16, 10]},
          "encoding": {
            "x": {"datum": 40.033, "type": "quantitative",
              "scale": {"domain": [39.75, 40.05], "reverse": true, "nice": false, "zero": false},
              "axis": {"orient": "top", "values": [40.05, 40.0, 39.95, 39.9, 39.85, 39.8, 39.75], "labels": false, "grid": false, "title": null}},
            "x2": {"datum": 39.75},
            "y": {"datum": 1, "type": "quantitative",
              "scale": {"domain": [0, 40], "nice": false},
              "axis": {"orient": "right", "values": [0, 10, 20, 30, 40], "labels": false, "grid": false, "title": null}}
          }
        }
      ]
    }
  ]
}
